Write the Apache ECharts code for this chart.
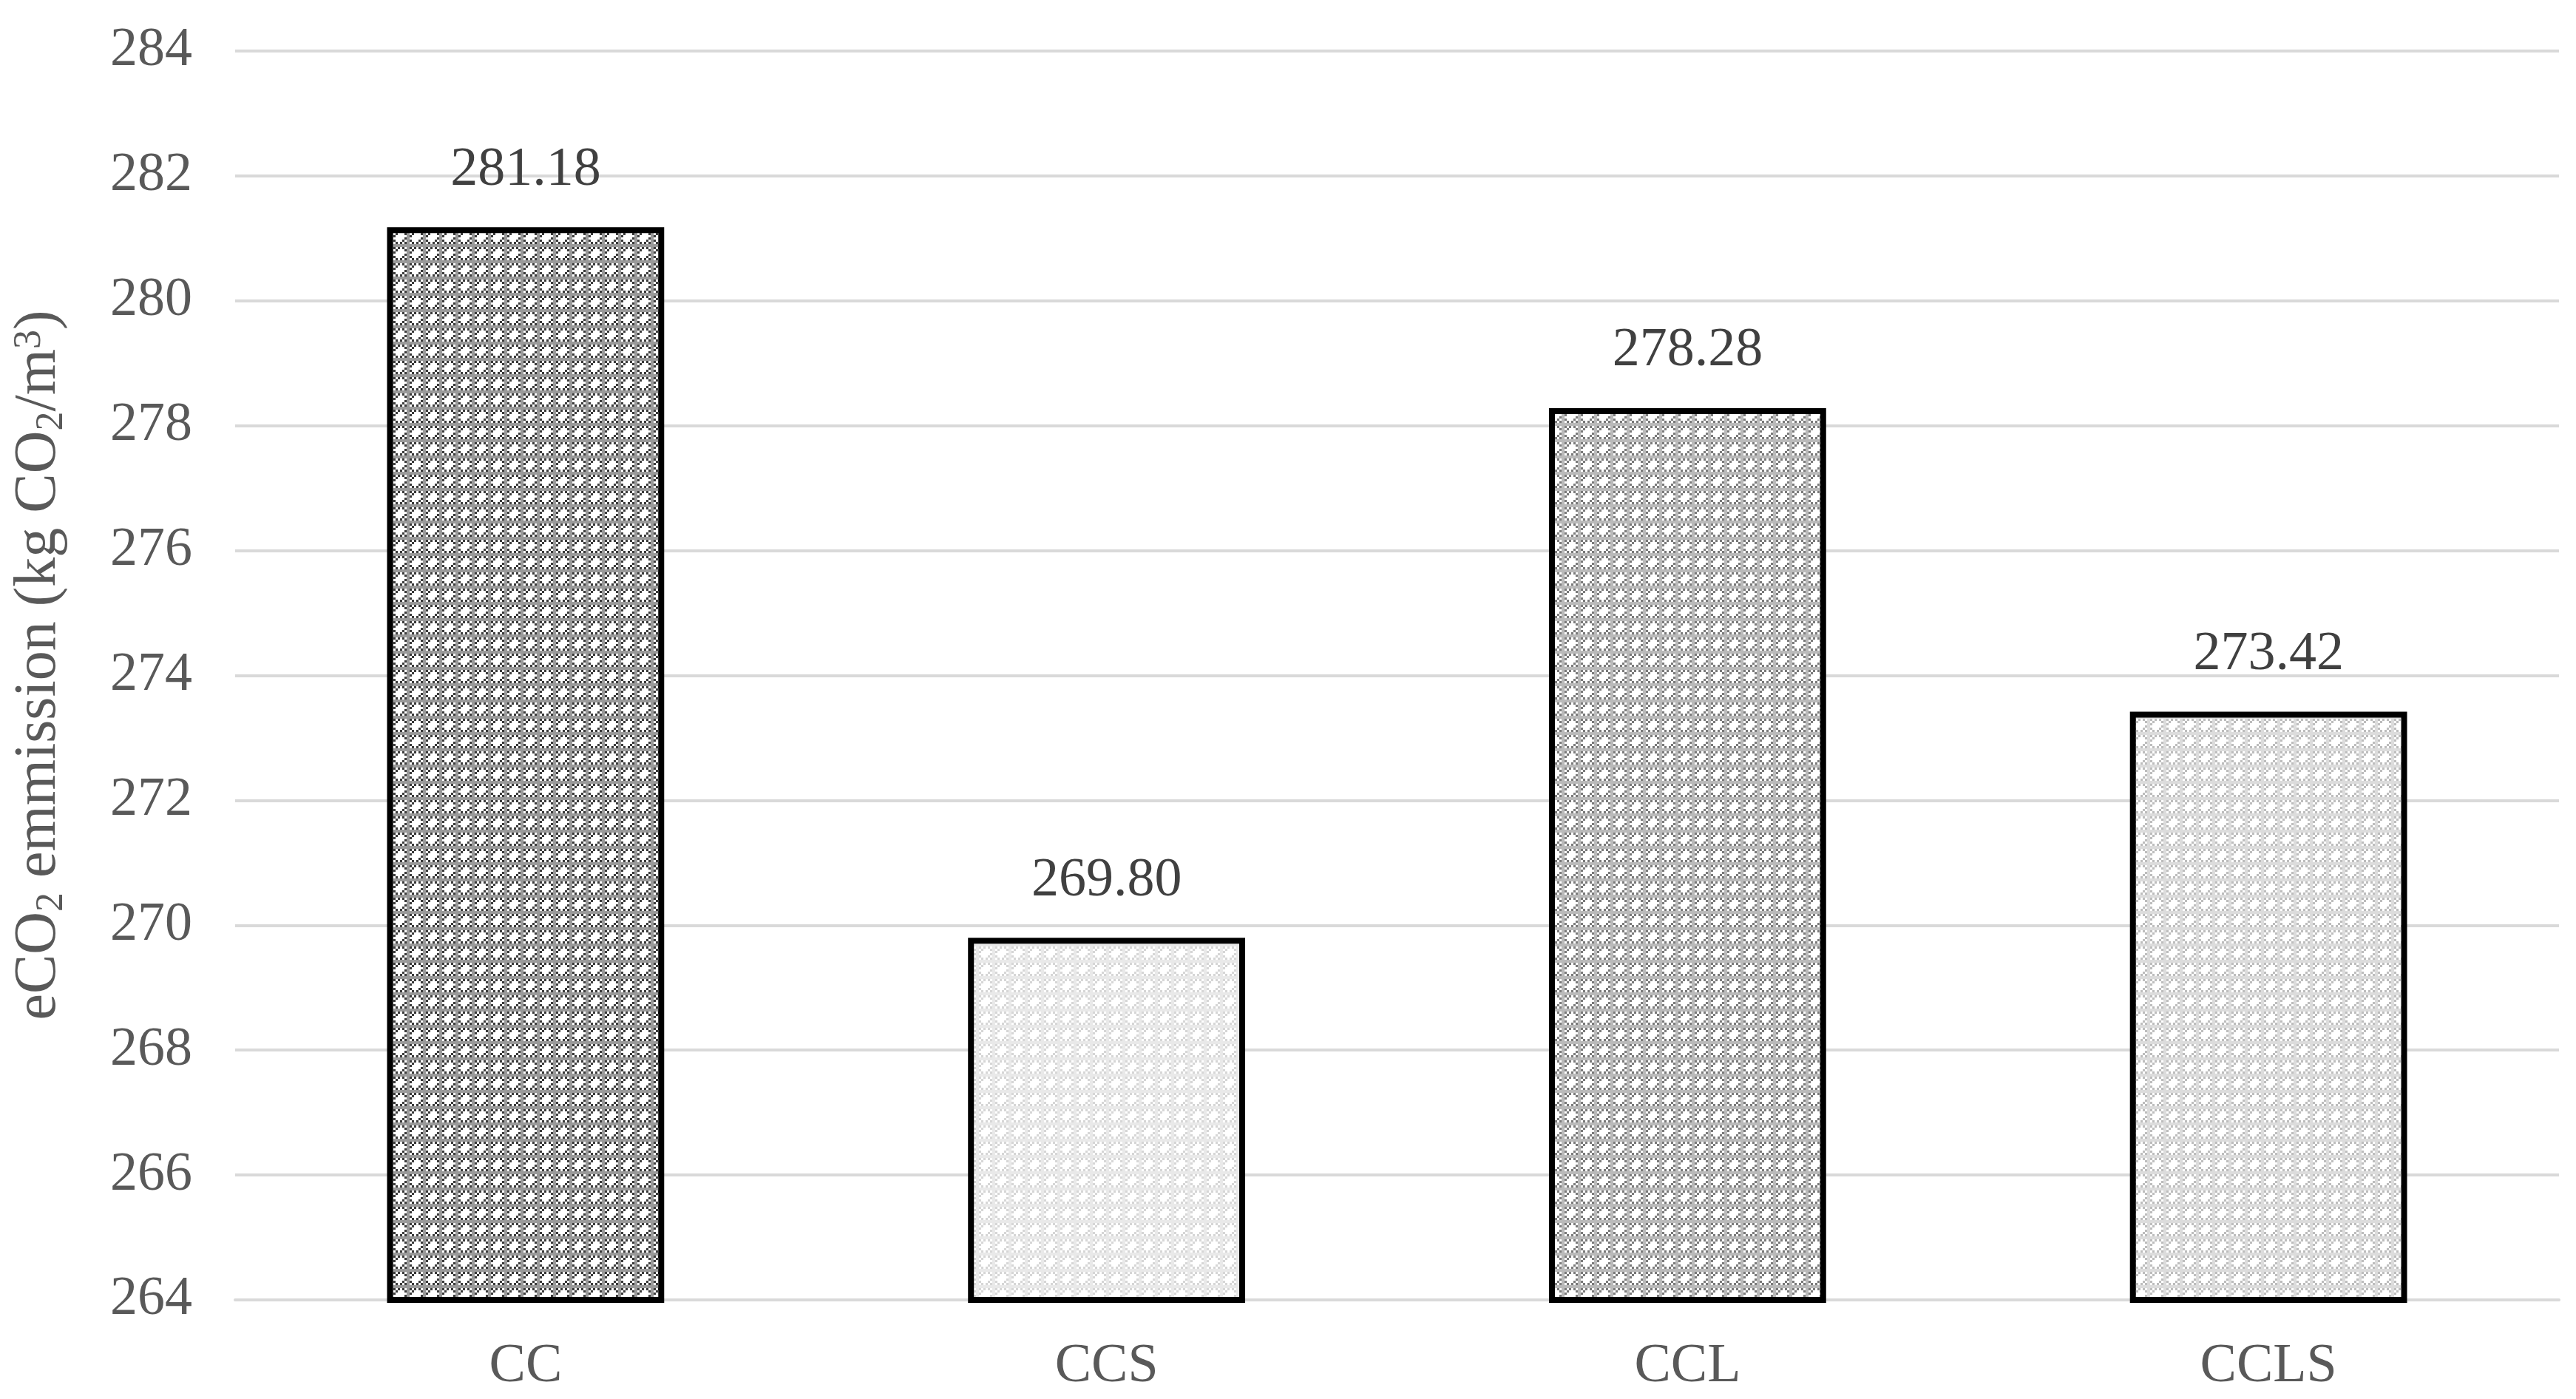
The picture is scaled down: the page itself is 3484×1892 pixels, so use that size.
<!DOCTYPE html>
<html>
<head>
<meta charset="utf-8">
<script src="https://cdn.jsdelivr.net/npm/echarts@6/dist/echarts.min.js"></script>
<style>
html,body{margin:0;padding:0;background:#fff;}
#chart{width:3484px;height:1892px;}
</style>
</head>
<body>
<div id="chart"></div>
<script>
const categories = ['CC', 'CCS', 'CCL', 'CCLS'];
const values = [281.18, 269.80, 278.28, 273.42];
const yTicks = { min: 264, max: 284, interval: 2 };

// pattern styles (square colour, grid-line colour) per bar
const patternStyles = [
  { sq: '#3a3a3a', line: '#9a9a9a' },
  { sq: '#d6d6d6', line: '#e9e9e9' },
  { sq: '#7a7a7a', line: '#bababa' },
  { sq: '#bdbdbd', line: '#dcdcdc' }
];

function makePattern(sq, line) {
  const s = 22;
  const c = document.createElement('canvas');
  c.width = s; c.height = s;
  const g = c.getContext('2d');
  g.fillStyle = '#ffffff';
  g.fillRect(0, 0, s, s);
  g.fillStyle = sq;
  const step = 3;
  for (let y = 4; y < s; y += step) {
    for (let x = 4; x < s; x += step) {
      const i = Math.round((x - 4) / step), j = Math.round((y - 4) / step);
      const cx = Math.abs(x + 1 - 13) < 3 && Math.abs(y + 1 - 13) < 6;
      const cy = Math.abs(y + 1 - 13) < 3 && Math.abs(x + 1 - 13) < 6;
      if ((i + j) % 2 === 0 && !(cx || cy)) g.fillRect(x, y, step, step);
    }
  }
  g.fillStyle = line;
  g.fillRect(0, 0, s, 4);
  g.fillRect(0, 0, 4, s);
  return c;
}

const chart = echarts.init(document.getElementById('chart'), null, { renderer: 'canvas' });
const FONT = '"Liberation Serif", "Times New Roman", serif';

chart.setOption({
  backgroundColor: '#ffffff',
  animation: false,
  grid: { left: 301, right: 23, top: 69, bottom: 134, containLabel: false },
  xAxis: {
    type: 'category',
    data: categories,
    axisLine: { show: true, lineStyle: { color: '#d9d9d9', width: 4 } },
    axisTick: { show: false },
    axisLabel: { color: '#595959', fontSize: 74, fontFamily: FONT, margin: 54 }
  },
  yAxis: {
    type: 'value',
    min: yTicks.min, max: yTicks.max, interval: yTicks.interval,
    axisLine: { show: false },
    axisTick: { show: false },
    axisLabel: { color: '#595959', fontSize: 74, fontFamily: FONT, margin: 58 },
    splitLine: { show: true, lineStyle: { color: '#d9d9d9', width: 4 } },
    name: 'eCO{sub|2} emmission (kg CO{sub|2}/m{sup|3})',
    nameLocation: 'middle',
    nameGap: 220,
    nameRotate: 90,
    nameTextStyle: {
      color: '#595959', fontSize: 80, fontFamily: FONT, lineHeight: 90,
      padding: [0, 0, 0, 28],
      rich: {
        sub: { fontSize: 52, lineHeight: 90, verticalAlign: 'bottom', color: '#595959', fontFamily: FONT, padding: [0, 0, 2, 0] },
        sup: { fontSize: 52, lineHeight: 90, verticalAlign: 'top', color: '#595959', fontFamily: FONT, padding: [6, 0, 0, 0] }
      }
    }
  },
  series: [{
    type: 'bar',
    barWidth: '47.7%',
    data: values.map((v, i) => ({
      value: v,
      itemStyle: {
        color: { image: makePattern(patternStyles[i].sq, patternStyles[i].line), repeat: 'repeat' },
        borderColor: '#000000',
        borderWidth: 8
      }
    })),
    label: {
      show: true,
      position: 'top',
      distance: 40,
      color: '#404040',
      fontSize: 74,
      fontFamily: FONT,
      formatter: p => p.value.toFixed(2)
    }
  }]
});
</script>
</body>
</html>
